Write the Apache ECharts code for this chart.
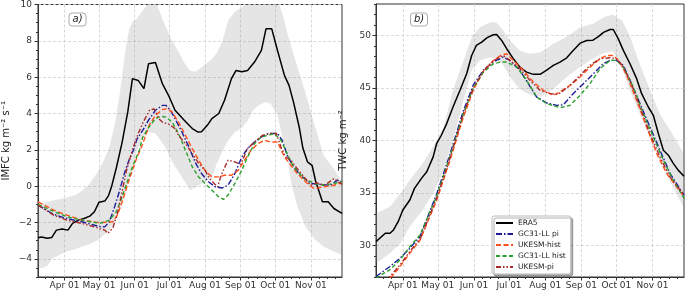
<!DOCTYPE html>
<html>
<head>
<meta charset="utf-8">
<script src="https://cdn.jsdelivr.net/npm/echarts@6/dist/echarts.min.js"></script>
<style>
  html, body { margin: 0; padding: 0; background: #fff; }
  #chart { width: 685px; height: 294px; }
</style>
</head>
<body>
<div id="chart"></div>
<script>
// x is day of year (non-leap), Mar 09 .. Nov 28
const dayMin = 68;
const dayMax = 332;
const monthDays = [91, 121, 152, 182, 213, 244, 274, 305];
const monthLabels = ['Apr 01', 'May 01', 'Jun 01', 'Jul 01', 'Aug 01', 'Sep 01', 'Oct 01', 'Nov 01'];
const monthStarts = [60, 91, 121, 152, 182, 213, 244, 274, 305];

const seriesNames = ['ERA5', 'GC31-LL pi', 'UKESM-hist', 'GC31-LL hist', 'UKESM-pi'];

// ---- panel a) IMFC ----
const imfcTicks = [-4, -2, 0, 2, 4, 6, 8, 10];
const imfcEra5 = [[68,-2.84],[71,-2.8],[76,-2.87],[80,-2.82],[84,-2.42],[89,-2.36],[94,-2.42],[98,-2.05],[103,-1.87],[108,-1.78],[113,-1.65],[117,-1.41],[121,-0.88],[126,-0.82],[129,-0.55],[132,0.0],[136,1.0],[141,2.4],[146,4.1],[150,5.92],[155,5.82],[160,5.37],[164,6.74],[170,6.81],[176,5.64],[182,4.91],[187,4.18],[195,3.63],[202,3.17],[207,2.98],[210,3.0],[215,3.35],[219,3.72],[225,4.0],[230,4.73],[236,5.92],[240,6.37],[245,6.3],[250,6.37],[256,6.83],[262,7.47],[266,8.66],[271,8.66],[276,7.47],[282,6.1],[286,5.55],[290,4.6],[295,3.2],[298,2.1],[302,1.34],[306,1.15],[309,0.3],[315,-0.86],[320,-0.86],[325,-1.23],[332,-1.5]];
const imfcGcPi = [[68,-1.04],[81,-1.54],[93,-1.78],[106,-1.96],[121,-2.22],[126,-2.24],[130,-1.96],[134.5,-1.14],[139,-0.22],[143,0.7],[147,1.43],[151,2.0],[154,2.6],[159,3.08],[164,3.63],[170,4.18],[176,4.45],[179,4.45],[183,4.18],[187,3.72],[193,2.98],[199,2.16],[205,1.25],[210,0.7],[216,0.24],[222,-0.04],[228,-0.1],[233,0.05],[239,0.7],[245,1.61],[250,2.07],[256,2.43],[262,2.71],[268,2.9],[276,2.9],[280,2.53],[285,1.61],[290,1.06],[296,0.6],[305,0.15],[313,0.1],[322,0.05],[328,0.33],[332,0.24]];
const imfcUkHist = [[68,-0.86],[81.5,-1.32],[93,-1.59],[106,-1.87],[121.6,-2.01],[133,-1.96],[137,-1.59],[141.6,-0.77],[147,0.33],[153,1.43],[159,2.34],[164.5,3.35],[170,3.9],[176,4.21],[180,4.27],[184.5,4.08],[190,3.53],[196,2.8],[202,2.07],[207.5,1.43],[213,0.88],[219,0.51],[225,0.51],[230,0.6],[236,0.6],[242,0.88],[247.5,1.43],[253,1.98],[259,2.34],[265,2.53],[270,2.43],[276,2.43],[282,1.61],[287.6,1.15],[293,0.7],[302,0.15],[307.6,-0.13],[316,-0.04],[325,0.05],[332,0.18]];
const imfcGcHist = [[68,-1.0],[80,-1.35],[93,-1.68],[106,-1.87],[122,-2.05],[130,-1.87],[136,-1.41],[140,-0.77],[146,0.33],[150,1.06],[156,1.98],[159,2.71],[164.5,3.26],[170,3.72],[174.5,3.85],[179,3.8],[184.5,3.53],[190,2.9],[196,1.98],[202,1.06],[207.5,0.51],[213,0.15],[219,-0.22],[225,-0.59],[229,-0.73],[233,-0.49],[239,0.15],[245,0.88],[250,1.61],[256,2.34],[262,2.71],[268,2.8],[273,2.9],[279,2.53],[285,1.7],[290,1.06],[299,0.42],[308,0.15],[316,0.05],[325,0.15],[332,0.24]];
const imfcUkPi = [[68,-1.04],[81.5,-1.59],[93,-1.87],[106,-2.05],[118.6,-2.27],[126,-2.42],[128.7,-2.6],[133,-2.3],[137,-1.5],[141,-0.3],[145,0.9],[150,2.0],[155,2.9],[160,3.6],[165,4.2],[169,4.25],[173,3.7],[176,3.53],[182,3.4],[187,3.17],[190,2.8],[196,2.34],[202,1.8],[207.5,1.25],[213,0.88],[217,0.42],[221,0.15],[224,-0.04],[227,0.6],[233,1.43],[239,1.34],[244,1.2],[250,2.07],[256,2.43],[263,2.8],[270,2.9],[275,2.9],[279,2.16],[283,1.61],[287.6,1.43],[293,0.97],[299,0.51],[304.6,0.05],[310,0.18],[317,0.05],[325,0.42],[332,0.1]];
const imfcBandDays = [68,72,76,80,86,93,100,106,113,120,125,130,135,139,144,147,150,154,158,164,170,178,185,190,195,200,205,210,215,219,223,228,233,239,245,250,255,260,265,270,276,282,285,288,293,300,308,316,325,332];
const imfcBandLow = [-4.5,-4.5,-4.4,-4.0,-3.8,-3.6,-3.47,-3.34,-3.18,-2.97,-2.7,-2.42,-1.9,-1.32,-0.3,0.3,1.06,1.98,2.5,3.0,2.9,2.2,1.3,0.8,0.3,-0.22,-0.05,0.15,0.35,0.44,1.2,1.9,2.5,2.98,3.2,3.6,4.2,4.45,4.63,4.55,3.9,2.16,1.4,0.1,-1.05,-2.2,-2.9,-3.34,-3.6,-3.79];
const imfcBandHigh = [-1.1,-0.95,-0.87,-0.8,-0.72,-0.63,-0.5,-0.26,0.15,0.8,1.4,2.15,3.5,5.1,7.5,8.6,9.05,9.21,9.6,10.05,10.2,8.9,7.95,7.4,6.8,6.35,6.3,6.55,6.8,7.0,7.3,7.95,9.1,9.6,9.85,10.1,10.5,10.8,10.8,10.6,10.3,9.1,8.3,7.7,6.6,5.2,3.4,1.7,0.95,0.24];

// ---- panel b) TWC ----
const twcTicks = [30, 35, 40, 45, 50];
const twcEra5 = [[68,30.37],[76,31.17],[80,31.17],[83,31.48],[87,32.27],[91,33.38],[97,34.33],[101,35.44],[107,36.39],[111.5,37.02],[117,38.44],[120,39.71],[124,40.5],[128.6,41.61],[134,43.19],[140,44.78],[145.7,46.36],[150,48.1],[154,49.05],[158.6,49.37],[163,49.78],[168.5,50.07],[171.4,50.1],[175.7,49.53],[180,48.74],[185.7,47.79],[191.4,46.99],[197,46.51],[203,46.3],[208.6,46.3],[214,46.68],[220,47.15],[225.7,47.47],[231.5,47.88],[237,48.58],[243,49.27],[248.6,49.53],[254,49.55],[258.6,49.9],[263,50.3],[268.6,50.57],[271.4,50.57],[275.7,49.68],[280,48.58],[285.7,47.31],[291.4,45.89],[295.7,44.46],[301.4,43.19],[305.7,42.4],[310,40.66],[314.3,39.08],[318.6,38.6],[322.8,37.82],[327,37.18],[332,36.6]];
const twcGcPi = [[68,27.05],[80,28.0],[88.6,28.79],[97,29.74],[105.7,30.85],[120,34.9],[131.4,38.7],[142.8,42.8],[151.4,45.3],[160,46.7],[168.5,47.47],[177,47.94],[182.8,47.63],[191.4,46.68],[198.5,45.41],[205.7,44.14],[214.3,43.57],[222.9,43.35],[228.6,43.4],[237,44.46],[245.7,45.41],[254.3,46.36],[262.8,47.31],[268.6,47.63],[274.3,47.63],[280,47.15],[285.7,45.73],[294.3,43.51],[302.8,41.29],[311.4,39.08],[320,36.87],[332,34.8]];
const twcUkHist = [[76,26.4],[82.8,27.21],[88.6,28.0],[97,29.27],[105.7,30.5],[120,34.3],[131.4,38.1],[142.8,42.2],[151.4,44.8],[160,46.6],[168.5,47.6],[175,48.1],[180,48.26],[185.7,47.63],[194.3,46.68],[202.8,45.57],[211.4,44.78],[220,44.3],[225.7,44.62],[234.3,45.25],[242.9,46.04],[251.4,46.99],[260,47.79],[265.7,48.1],[271.4,48.1],[277.1,47.47],[282.9,46.2],[291.4,43.83],[300,41.29],[308.6,38.76],[317.1,36.87],[332,34.65]];
const twcGcHist = [[68,26.9],[80,27.7],[88.6,28.63],[97,29.9],[105.7,31.0],[120,34.7],[131.4,38.5],[142.8,42.5],[151.4,45.0],[160,46.5],[168.5,47.3],[174.3,47.47],[180,47.47],[188.6,46.99],[197.2,45.73],[205.7,44.14],[214.3,43.51],[225.7,43.13],[234.3,43.35],[242.9,44.3],[251.4,45.41],[260,46.84],[268.6,47.63],[274.3,47.63],[280,46.99],[288.6,45.09],[297.1,42.56],[305.7,40.34],[314.3,38.13],[322.8,36.23],[332,34.49]];
const twcUkPi = [[75,26.5],[80,27.05],[88.6,28.16],[97,29.43],[105.7,30.6],[120,34.5],[131.4,38.3],[142.8,42.5],[151.4,45.0],[160,46.6],[168.5,47.6],[177,48.1],[182.8,47.63],[191.4,46.84],[200,45.73],[208.6,44.78],[217.1,44.46],[224.3,44.4],[234.3,45.25],[242.9,46.2],[251.4,47.15],[260,47.79],[268.6,47.88],[274.3,47.79],[280,46.99],[285.7,45.73],[294.3,43.19],[302.8,40.66],[311.4,38.44],[320,36.54],[332,34.8]];
const twcBandDays = [68,80,89,97,108,117,126,134,143,150,157,166,171,177,183,191,200,209,220,231,243,254,263,271,279,286,294,303,311,320,326,332];
const twcBandLow = [28.32,29.27,30.22,31.8,33.38,34.97,37.18,40.03,43.83,46.68,47.63,47.94,47.8,47.2,46.04,44.9,44.35,44.2,44.9,46.0,47.0,47.8,48.3,48.5,46.9,44.7,42.6,40.2,38.2,36.1,34.8,33.6];
const twcBandHigh = [33.06,33.7,34.97,36.23,37.82,39.4,41.29,44.8,47.6,49.84,50.79,51.26,51.26,50.47,49.53,48.58,48.26,48.41,49.21,49.84,50.79,51.11,51.74,51.99,51.42,49.84,47.31,44.78,42.56,40.98,39.9,38.7];

const colors = ['#000000', '#1c1c9a', '#ff4f1a', '#2ca02c', '#a82a2a'];
const dashes = ['solid', [6, 2, 1.5, 2], [5, 2.5], [4, 2.5], [5, 2, 1.5, 2, 1.5, 2]];
const widths = [1.5, 1.4, 1.4, 1.4, 1.4];

const font = 'DejaVu Sans';
const axisColor = '#333';

// minor tick positions
const minorDays = [];
monthStarts.forEach((d) => [7, 14, 21].forEach((k) => {
  if (d + k > dayMin && d + k < dayMax) minorDays.push(d + k);
}));
const imfcMinor = [];
for (let v = -5; v <= 10; v += 0.5) if (v % 2 !== 0) imfcMinor.push(v);
const twcMinor = [];
for (let v = 27; v <= 53; v += 1) if (v % 5 !== 0) twcMinor.push(v);

const mainX = (gridIndex) => ({
  type: 'value', gridIndex, min: dayMin, max: dayMax,
  axisLine: { onZero: false, lineStyle: { color: axisColor, width: 1 } },
  axisTick: { customValues: monthDays, length: 3.5, lineStyle: { color: axisColor } },
  axisLabel: {
    customValues: monthDays, fontSize: 9, color: axisColor, margin: 4, fontFamily: font,
    formatter: (v) => monthLabels[monthDays.indexOf(v)] || '',
  },
  splitLine: { show: true, lineStyle: { color: '#cfcfcf', width: 0.8, type: [3, 2] } },
});
const minorX = (gridIndex) => ({
  type: 'value', gridIndex, min: dayMin, max: dayMax, position: 'bottom',
  axisLine: { show: false, onZero: false },
  axisTick: { customValues: minorDays, length: 2, lineStyle: { color: axisColor } },
  axisLabel: { show: false },
  splitLine: { show: false },
});
const mainY = (gridIndex, min, max, ticks, name, gap, margin) => ({
  type: 'value', gridIndex, min, max, position: 'left',
  name, nameLocation: 'middle', nameGap: gap, nameRotate: 90,
  nameTextStyle: { fontSize: 10, color: '#222', fontFamily: font },
  axisLine: { show: true, onZero: false, lineStyle: { color: axisColor, width: 1 } },
  axisTick: { customValues: ticks, length: 3.5, lineStyle: { color: axisColor } },
  axisLabel: {
    customValues: ticks, fontSize: 9, color: axisColor, margin, fontFamily: font,
    formatter: (v) => (v < 0 ? '\u2212' + Math.abs(v) : String(v)),
  },
  splitLine: { show: true, lineStyle: { color: '#cfcfcf', width: 0.8, type: [3, 2] } },
});
const minorY = (gridIndex, min, max, ticks) => ({
  type: 'value', gridIndex, min, max, position: 'left',
  axisLine: { show: false, onZero: false },
  axisTick: { customValues: ticks, length: 2, lineStyle: { color: axisColor } },
  axisLabel: { show: false },
  splitLine: { show: false },
});

// gray spread band: polygon along the upper edge and back along the lower edge
const band = (axisIndex, days, low, high) => ({
  type: 'custom', xAxisIndex: axisIndex, yAxisIndex: axisIndex,
  data: [[days[0], low[0]]], silent: true, z: 1,
  renderItem: (params, api) => {
    const pts = days.map((d, i) => api.coord([d, high[i]]));
    for (let i = days.length - 1; i >= 0; i--) pts.push(api.coord([days[i], low[i]]));
    const cs = params.coordSys;
    return {
      type: 'polygon',
      shape: { points: pts },
      style: { fill: 'rgba(150,150,150,0.25)' },
      clipPath: { type: 'rect', shape: { x: cs.x, y: cs.y, width: cs.width, height: cs.height } },
    };
  },
});

const lines = (axisIndex, sets) => sets.map((data, i) => ({
  name: seriesNames[i], type: 'line', xAxisIndex: axisIndex, yAxisIndex: axisIndex,
  data, symbol: 'none', z: 3 + i,
  lineStyle: { color: colors[i], width: widths[i], type: dashes[i] },
  itemStyle: { color: colors[i] },
}));

const chart = echarts.init(document.getElementById('chart'));
chart.setOption({
  animation: false,
  backgroundColor: '#fff',
  title: [
    {
      text: 'a)', left: 69, top: 12.5, padding: [2, 3.5],
      borderColor: '#aaa', borderWidth: 1, borderRadius: 3, backgroundColor: '#fff',
      textStyle: { fontSize: 10, fontStyle: 'italic', fontWeight: 'normal', color: '#222', fontFamily: font },
    },
    {
      text: 'b)', left: 410.5, top: 12.5, padding: [2, 3.5],
      borderColor: '#aaa', borderWidth: 1, borderRadius: 3, backgroundColor: '#fff',
      textStyle: { fontSize: 10, fontStyle: 'italic', fontWeight: 'normal', color: '#222', fontFamily: font },
    },
  ],
  legend: {
    data: seriesNames, orient: 'vertical', left: 492, top: 216,
    padding: [3, 5, 3, 3], itemWidth: 17, itemHeight: 8, itemGap: 3,
    backgroundColor: '#fff', borderColor: '#bbb', borderWidth: 1, borderRadius: 2,
    shadowColor: 'rgba(0,0,0,0.3)', shadowOffsetX: 2, shadowOffsetY: 2, shadowBlur: 0,
    itemStyle: { color: 'rgba(0,0,0,0)', borderWidth: 0, opacity: 0 },
    textStyle: { fontSize: 7.5, color: '#222', fontFamily: font },
    selectedMode: false,
  },
  grid: [
    { left: 34.3, right: 343, top: 4, bottom: 17, show: true, borderColor: axisColor, borderWidth: 1 },
    { left: 376, right: 1, top: 4, bottom: 17, show: true, borderColor: axisColor, borderWidth: 1 },
  ],
  xAxis: [mainX(0), mainX(1), minorX(0), minorX(1)],
  yAxis: [
    mainY(0, -5, 10, imfcTicks, 'IMFC kg m\u207B\u00B2 s\u207B\u00B9', 27, 6),
    mainY(1, 27, 53, twcTicks, 'TWC kg m\u207B\u00B2', 27.5, 5),
    minorY(0, -5, 10, imfcMinor),
    minorY(1, 27, 53, twcMinor),
  ],
  series: [
    band(0, imfcBandDays, imfcBandLow, imfcBandHigh),
    band(1, twcBandDays, twcBandLow, twcBandHigh),
    ...lines(0, [imfcEra5, imfcGcPi, imfcUkHist, imfcGcHist, imfcUkPi]),
    ...lines(1, [twcEra5, twcGcPi, twcUkHist, twcGcHist, twcUkPi]),
  ],
});
</script>
</body>
</html>
